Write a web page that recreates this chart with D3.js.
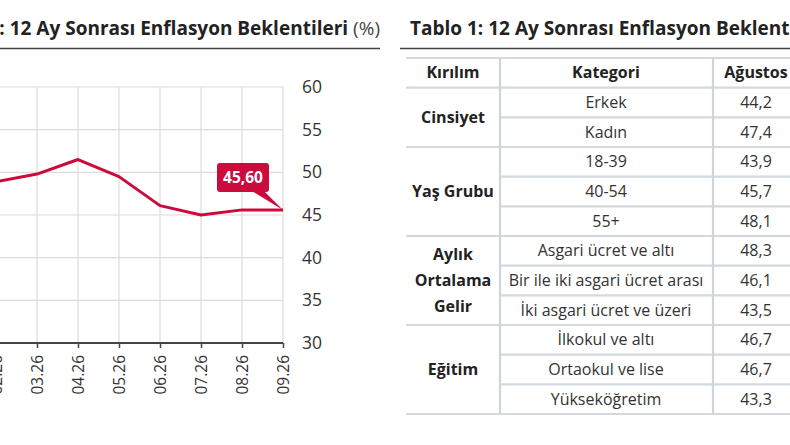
<!DOCTYPE html>
<html><head><meta charset="utf-8">
<script src="https://cdn.jsdelivr.net/npm/d3@7"></script>
<style>
html,body{margin:0;padding:0;background:#fff;}
svg{display:block;font-family:"Open Sans",sans-serif;}
</style></head>
<body>
<svg id="c" width="790" height="445"></svg>
<script>
// ---- Chart data ----
const months = ["02.26","03.26","04.26","05.26","06.26","07.26","08.26","09.26"];
const expectation = [48.9, 49.8, 51.5, 49.5, 46.1, 45.0, 45.6, 45.6];
const yTicks = [30, 35, 40, 45, 50, 55, 60];

// ---- Table data ----
const groups = [
  {name:["Cinsiyet"], size:2},
  {name:["Yaş Grubu"], size:3},
  {name:["Aylık","Ortalama","Gelir"], size:3},
  {name:["Eğitim"], size:3}
];
const categories = ["Erkek","Kadın","18-39","40-54","55+","Asgari ücret ve altı","Bir ile iki asgari ücret arası","İki asgari ücret ve üzeri","İlkokul ve altı","Ortaokul ve lise","Yükseköğretim"];
const augustValues = [44.2, 47.4, 43.9, 45.7, 48.1, 48.3, 46.1, 43.5, 46.7, 46.7, 43.3];
const headers = ["Kırılım","Kategori","Ağustos"];

const svg = d3.select("#c");
const red = "#cc0a3c";
const comma = v => v.toFixed(1).replace(".", ",");

// ===== Left chart =====
const x = d3.scalePoint().domain(months).range([-4, 283]);
const y = d3.scaleLinear().domain([30, 60]).range([343, 87]);

// Title
const t1 = svg.append("text").attr("x", 380).attr("y", 35).attr("text-anchor","end")
  .attr("font-size", 19).attr("fill","#222");
t1.append("tspan").attr("font-weight", 700).text("Grafik 1: 12 Ay Sonrası Enflasyon Beklentileri ");
t1.append("tspan").attr("font-weight", 400).attr("fill","#444").text("(%)");
svg.append("line").attr("x1",0).attr("x2",380).attr("y1",48.5).attr("y2",48.5)
  .attr("stroke","#444").attr("stroke-width",1.6);

const g = svg.append("g");
// grid
g.selectAll("line.hg").data(yTicks).join("line").attr("class","hg")
  .attr("x1", 0).attr("x2", x(months[months.length-1]))
  .attr("y1", d=>y(d)).attr("y2", d=>y(d))
  .attr("stroke","#dcdcdc").attr("stroke-width",1.2);
g.selectAll("line.vg").data(months).join("line").attr("class","vg")
  .attr("x1", d=>x(d)).attr("x2", d=>x(d))
  .attr("y1", y(60)).attr("y2", y(30))
  .attr("stroke","#dcdcdc").attr("stroke-width",1.2);

// x axis
const xAxis = d3.axisBottom(x).tickSize(5).tickPadding(0).tickSizeOuter(0);
const xa = g.append("g").attr("transform",`translate(0,${y(30)})`).call(xAxis);
xa.select(".domain").attr("stroke","#444").attr("stroke-width",2).attr("d", `M0,0H${x(months[months.length-1])}`);
xa.selectAll(".tick line").attr("stroke","#444").attr("stroke-width",1.5);
xa.selectAll(".tick text")
  .attr("font-size", 15.5).attr("fill","#333").attr("font-family","Open Sans")
  .attr("text-anchor","end").attr("transform","rotate(-90)")
  .attr("x", -12).attr("y", 0).attr("dy","0.35em");

// y axis (right labels)
const ya = g.append("g").attr("transform","translate(302,0)")
  .call(d3.axisRight(y).tickValues(yTicks).tickSize(0).tickPadding(0));
ya.select(".domain").remove();
ya.selectAll(".tick text").attr("font-size",17.5).attr("fill","#333").attr("font-family","Open Sans");

// line
g.append("path").datum(expectation)
  .attr("fill","none").attr("stroke",red).attr("stroke-width",3).attr("stroke-linejoin","round")
  .attr("d", d3.line().x((d,i)=>x(months[i])).y(d=>y(d)));

// callout
const lastI = expectation.length-1;
const px = x(months[lastI]), py = y(expectation[lastI]);
g.append("path").attr("fill",red)
  .attr("d", `M${px-33},${py-20}L${px-20},${py-20}L${px},${py}Z`);
g.append("rect").attr("x", px-66).attr("y", py-47).attr("width",52).attr("height",29)
  .attr("rx",3).attr("fill",red);
g.append("text").attr("x", px-40).attr("y", py-32.5).attr("dy","0.35em")
  .attr("text-anchor","middle").attr("fill","#fff").attr("font-weight",700).attr("font-size",15.5)
  .text(expectation[lastI].toFixed(2).replace(".", ","));

// ===== Right table =====
svg.append("text").attr("x", 410).attr("y", 35).attr("font-size",19).attr("font-weight",700)
  .attr("fill","#222").text("Tablo 1: 12 Ay Sonrası Enflasyon Beklentileri");
svg.append("line").attr("x1",400).attr("x2",790).attr("y1",48.5).attr("y2",48.5)
  .attr("stroke","#444").attr("stroke-width",1.6);

const rowY = d3.scaleLinear().domain([0, categories.length+1]).range([58, 414]);
const colX = [406, 500, 713, 800];
const colC = [453, 606, 756];
const lineC = "#d4d9df";
const fs = 16;
const tg = svg.append("g");

// row lines in columns 2-3 (every row)
const rowIdx = d3.range(categories.length+2);
tg.selectAll("line.r").data(rowIdx).join("line").attr("class","r")
  .attr("x1", colX[1]).attr("x2", 790)
  .attr("y1", d=>rowY(d)).attr("y2", d=>rowY(d))
  .attr("stroke", lineC).attr("stroke-width", 2.2);
// group boundaries in column 1
let acc = 1; const bounds = [0, 1];
groups.forEach(gr => { acc += gr.size; bounds.push(acc); });
tg.selectAll("line.b").data(bounds).join("line").attr("class","b")
  .attr("x1", colX[0]).attr("x2", colX[1])
  .attr("y1", d=>rowY(d)).attr("y2", d=>rowY(d))
  .attr("stroke", lineC).attr("stroke-width", 2.2);
// vertical separators
tg.selectAll("line.v").data([colX[1], colX[2]]).join("line").attr("class","v")
  .attr("x1", d=>d).attr("x2", d=>d).attr("y1", rowY(0)).attr("y2", rowY(categories.length+1))
  .attr("stroke", "#cfd4da").attr("stroke-width", 2.2);

// header
tg.selectAll("text.h").data(headers).join("text").attr("class","h")
  .attr("x",(d,i)=>colC[i]).attr("y", (rowY(0)+rowY(1))/2).attr("dy","0.35em")
  .attr("text-anchor","middle").attr("font-size",fs).attr("font-weight",700).attr("fill","#222")
  .text(d=>d);
// categories & values
tg.selectAll("text.k").data(categories).join("text").attr("class","k")
  .attr("x", colC[1]).attr("y",(d,i)=>(rowY(i+1)+rowY(i+2))/2).attr("dy","0.35em")
  .attr("text-anchor","middle").attr("font-size",fs).attr("fill","#333").text(d=>d);
tg.selectAll("text.v").data(augustValues).join("text").attr("class","v")
  .attr("x", colC[2]).attr("y",(d,i)=>(rowY(i+1)+rowY(i+2))/2).attr("dy","0.35em")
  .attr("text-anchor","middle").attr("font-size",fs).attr("fill","#333").text(d=>comma(d));
// group labels
groups.forEach((gr, gi) => {
  const cy = (rowY(bounds[gi+1]) + rowY(bounds[gi+2]))/2;
  const n = gr.name.length, lh = 26;
  gr.name.forEach((nm, li) => {
    tg.append("text").attr("x", colC[0]).attr("y", cy + (li-(n-1)/2)*lh).attr("dy","0.35em")
      .attr("text-anchor","middle").attr("font-size",fs).attr("font-weight",700).attr("fill","#222")
      .text(nm);
  });
});
</script>
</body></html>
